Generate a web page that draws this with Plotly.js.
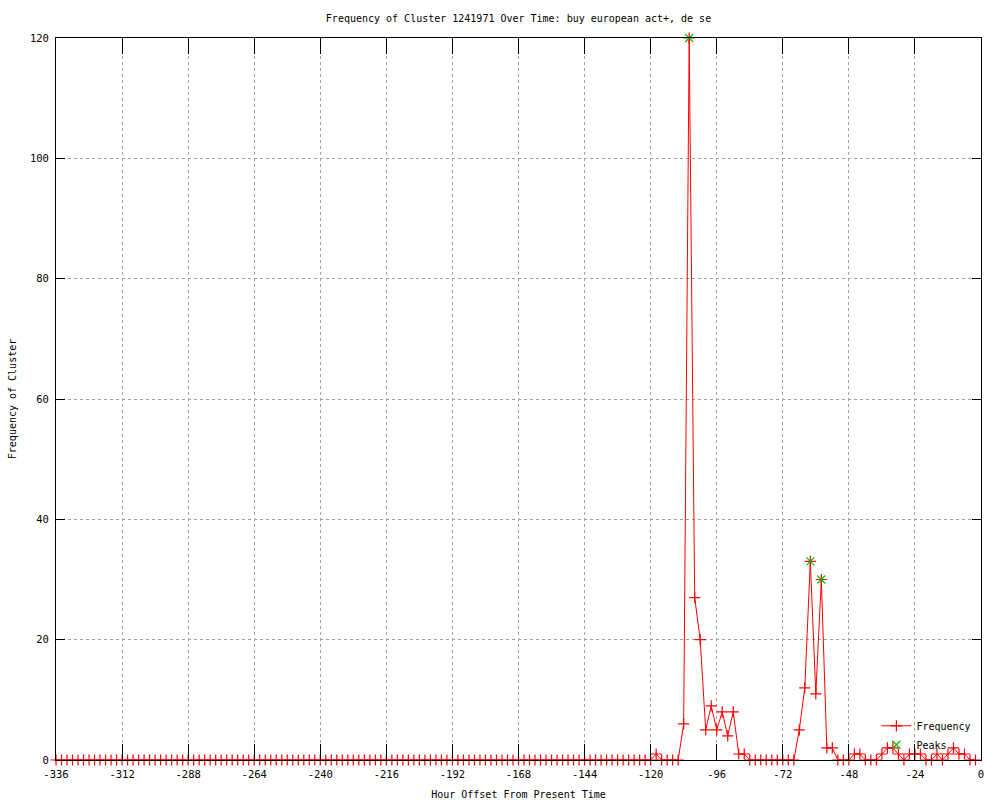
<!DOCTYPE html>
<html>
<head>
<meta charset="utf-8">
<script src="https://cdn.plot.ly/plotly-3.0.1.min.js"></script>
<style>html,body{margin:0;padding:0;background:#fff;}#chart{width:1000px;height:800px;}</style>
</head>
<body>
<div id="chart"></div>
<script>
// Hour offsets (every 2 hours)
const hours = [
  -336,-334,-332,-330,-328,-326,-324,-322,-320,-318,-316,-314,
  -312,-310,-308,-306,-304,-302,-300,-298,-296,-294,-292,-290,
  -288,-286,-284,-282,-280,-278,-276,-274,-272,-270,-268,-266,
  -264,-262,-260,-258,-256,-254,-252,-250,-248,-246,-244,-242,
  -240,-238,-236,-234,-232,-230,-228,-226,-224,-222,-220,-218,
  -216,-214,-212,-210,-208,-206,-204,-202,-200,-198,-196,-194,
  -192,-190,-188,-186,-184,-182,-180,-178,-176,-174,-172,-170,
  -168,-166,-164,-162,-160,-158,-156,-154,-152,-150,-148,-146,
  -144,-142,-140,-138,-136,-134,-132,-130,-128,-126,-124,-122,
  -120,-118,-116,-114,-112,-110,-108,-106,-104,-102,-100,-98,
  -96,-94,-92,-90,-88,-86,-84,-82,-80,-78,-76,-74,
  -72,-70,-68,-66,-64,-62,-60,-58,-56,-54,-52,-50,
  -48,-46,-44,-42,-40,-38,-36,-34,-32,-30,-28,-26,
  -24,-22,-20,-18,-16,-14,-12,-10,-8,-6,-4,-2
];
const frequency = [
  0,0,0,0,0,0,0,0,0,0,0,0,
  0,0,0,0,0,0,0,0,0,0,0,0,
  0,0,0,0,0,0,0,0,0,0,0,0,
  0,0,0,0,0,0,0,0,0,0,0,0,
  0,0,0,0,0,0,0,0,0,0,0,0,
  0,0,0,0,0,0,0,0,0,0,0,0,
  0,0,0,0,0,0,0,0,0,0,0,0,
  0,0,0,0,0,0,0,0,0,0,0,0,
  0,0,0,0,0,0,0,0,0,0,0,0,
  0,1,0,0,0,0,6,120,27,20,5,9,
  5,8,4,8,1,1,0,0,0,0,0,0,
  0,0,0,5,12,33,11,30,2,2,0,0,
  0,1,1,0,0,0,1,2,2,1,0,1,
  1,1,0,0,1,0,1,2,1,1,0,0
];
const peakHours = [-106, -62, -58];
const peakValues = [120, 33, 30];
const xTicks = [-336,-312,-288,-264,-240,-216,-192,-168,-144,-120,-96,-72,-48,-24,0];
const yTicks = [0,20,40,60,80,100,120];

const FONT = "DejaVu Sans Mono, monospace";

const traces = [
  {
    x: hours, y: frequency, name: "Frequency",
    type: "scatter", mode: "lines+markers",
    line: {color: "#ff0000", width: 1},
    marker: {symbol: "cross-thin-open", size: 8, color: "#ff0000", line: {color: "#ff0000", width: 1.2}},
    cliponaxis: false
  },
  {
    x: peakHours, y: peakValues, name: "Peaks",
    type: "scatter", mode: "markers",
    marker: {symbol: "x-thin-open", size: 8, color: "#00c000", line: {color: "#00c000", width: 1.2}},
    cliponaxis: false
  }
];

const axisCommon = {
  showline: true, linecolor: "#000", linewidth: 1, mirror: "allticks",
  ticks: "inside", tickcolor: "#000", tickwidth: 1,
  showgrid: true, gridcolor: "#a0a0a0", griddash: "dot", gridwidth: 1,
  zeroline: false, automargin: false,
  tickfont: {family: FONT, size: 10.5, color: "#000"}
};

const layout = {
  width: 1000, height: 800,
  paper_bgcolor: "#fff", plot_bgcolor: "#fff",
  margin: {l: 56, r: 19, t: 38, b: 40},
  title: {text: "Frequency of Cluster 1241971 Over Time: buy european act+, de se",
          font: {family: FONT, size: 10, color: "#000"},
          x: 0.5185, xanchor: "center", y: 1 - 18/800, yanchor: "middle"},
  xaxis: Object.assign({}, axisCommon, {
    range: [-336, 0], tickvals: xTicks, ticktext: xTicks.map(String), ticklen: 16,
    ticklabelstandoff: 4,
    title: {text: "Hour Offset From Present Time", font: {family: FONT, size: 10, color: "#000"}, standoff: 13}
  }),
  yaxis: Object.assign({}, axisCommon, {
    range: [0, 120], tickvals: yTicks, ticktext: yTicks.map(String), ticklen: 9,
    ticklabelstandoff: 4,
    title: {text: "Frequency of Cluster", font: {family: FONT, size: 10, color: "#000"}, standoff: 11}
  }),
  showlegend: true,
  legend: {x: 0.995, y: 0.001, xanchor: "right", yanchor: "bottom",
           bgcolor: "rgba(0,0,0,0)", borderwidth: 0,
           font: {family: FONT, size: 10, color: "#000"},
           tracegroupgap: 0, itemwidth: 30}
};

Plotly.newPlot("chart", traces, layout, {displayModeBar: false, staticPlot: true});
</script>
</body>
</html>
